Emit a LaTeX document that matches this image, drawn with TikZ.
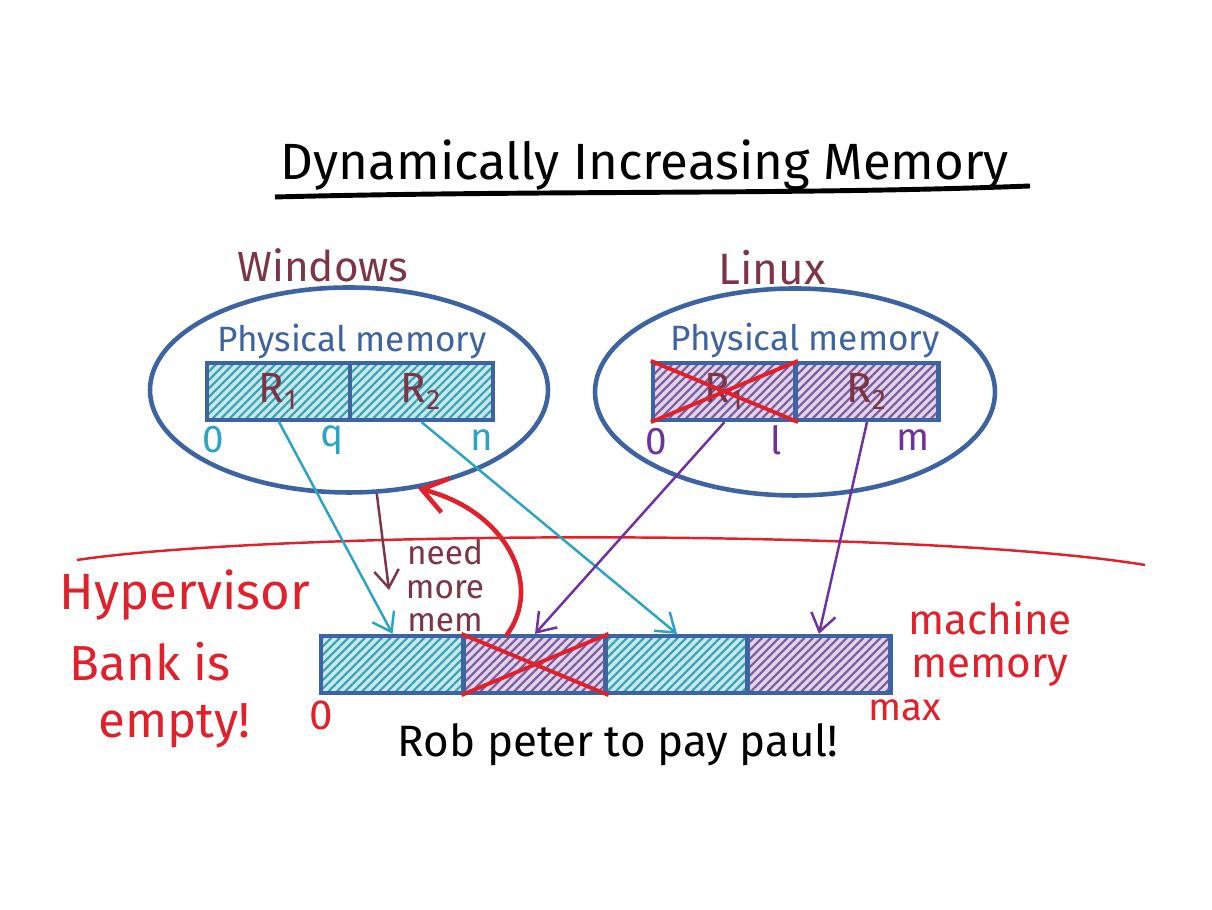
\documentclass[tikz,border=0pt]{standalone}
\usepackage{fontspec}
\setsansfont{Fira Sans}
\usetikzlibrary{arrows.meta,shapes.geometric,patterns.meta}
\definecolor{memblue}{HTML}{3D64A0}
\definecolor{osred}{HTML}{7B3545}
\definecolor{winteal}{HTML}{2BA3C3}
\definecolor{linpurple}{HTML}{7030A0}
\definecolor{hvred}{HTML}{E0202A}
\definecolor{tealfill}{HTML}{C4E8EE}
\definecolor{tealhatch}{HTML}{3AA0B0}
\definecolor{purpfill}{HTML}{E0D4EC}
\definecolor{purphatch}{HTML}{7A5A9A}
\newcommand{\fs}[1]{\fontsize{#1}{#1}\selectfont}

\begin{document}
\begin{tikzpicture}[font=\sffamily,>={Straight Barb[length=5pt,width=7pt]},
 blk/.style={draw=memblue,line width=1.2pt,minimum width=1.43cm,minimum height=0.57cm,inner sep=0pt,text=osred,font=\sffamily\fs{12}},
 tealblk/.style={blk,preaction={fill=tealfill},pattern={Lines[angle=45,distance=1.7pt,line width=0.6pt]},pattern color=tealhatch},
 purpblk/.style={blk,preaction={fill=purpfill},pattern={Lines[angle=45,distance=1.7pt,line width=0.6pt]},pattern color=purphatch},
 osbubble/.style={ellipse,draw=memblue,line width=1.3pt,minimum width=3.98cm,minimum height=2.05cm,inner sep=0pt},
 cross/.style={draw=hvred,line width=1.1pt}]
\useasboundingbox (0,0) rectangle (12.12,9.10);
\node[font=\sffamily\fs{14.5}] (title) at (6.45,7.45) {Dynamically Increasing Memory};
\draw[line width=1.4pt] (2.75,7.13) .. controls (5.5,7.20) and (8.0,7.15) .. (10.30,7.24);
\node[text=osred,font=\sffamily\fs{12}] (winlab) at (3.23,6.45) {Windows};
\node[osbubble] (wos) at (3.49,5.20) {};
\node[text=memblue,font=\sffamily\fs{10}] (wphys) at (3.52,5.68) {Physical memory};
\node[tealblk] (wr1) at (2.785,5.185) {R\textsubscript{1}};
\node[tealblk] (wr2) at (4.215,5.185) {R\textsubscript{2}};
\node[text=winteal,font=\sffamily\fs{11}] (w0) at (2.13,4.70) {0};
\node[text=winteal,font=\sffamily\fs{11}] (wq) at (3.32,4.70) {q};
\node[text=winteal,font=\sffamily\fs{11}] (wn) at (4.82,4.70) {n};
\node[text=osred,font=\sffamily\fs{12.5}] (linlab) at (7.72,6.42) {Linux};
\node[osbubble,minimum width=4.0cm,minimum height=2.07cm] (los) at (7.95,5.18) {};
\node[text=memblue,font=\sffamily\fs{10}] (lphys) at (8.05,5.69) {Physical memory};
\node[purpblk] (lr1) at (7.245,5.185) {R\textsubscript{1}};
\node[purpblk] (lr2) at (8.67,5.185) {R\textsubscript{2}};
\draw[cross] (lr1.north west) -- (lr1.south east) (lr1.south west) -- (lr1.north east);
\node[text=linpurple,font=\sffamily\fs{11}] (l0) at (6.56,4.68) {0};
\node[text=linpurple,font=\sffamily\fs{11}] (ll) at (7.76,4.70) {l};
\node[text=linpurple,font=\sffamily\fs{11}] (lm) at (9.13,4.70) {m};
\draw[hvred,line width=0.7pt] (0.77,3.50) .. controls (2.8,3.80) and (9.2,3.82) .. (11.45,3.45);
\node[text=hvred,font=\sffamily\fs{14.5}] (hv) at (1.85,3.15) {Hypervisor};
\node[text=hvred,font=\sffamily\fs{14},align=center] (bank) at (1.50,2.15) {Bank is\\[2pt]\quad empty!};
\node[tealblk] (m1) at (3.925,2.455) {};
\node[purpblk] (m2) at (5.35,2.455) {};
\node[tealblk] (m3) at (6.77,2.455) {};
\node[purpblk] (m4) at (8.19,2.455) {};
\draw[cross] (m2.north west) -- (m2.south east) (m2.south west) -- (m2.north east);
\node[text=hvred,font=\sffamily\fs{12}] (m0) at (3.21,1.95) {0};
\node[text=hvred,font=\sffamily\fs{11}] (mmax) at (9.05,2.00) {max};
\node[text=hvred,font=\sffamily\fs{12},align=center] (mlab) at (9.90,2.66) {machine\\memory};
\node[font=\sffamily\fs{12.5}] (rob) at (6.18,1.65) {Rob peter to pay paul!};
\node[text=osred,font=\sffamily\fs{9.5},align=center,inner sep=1pt] (need) at (4.45,3.24) {need\\more\\mem};
\coordinate (needtip) at (3.89,3.20);
\draw[winteal,line width=0.7pt,->] (wr1.south) -- (m1.north);
\draw[winteal,line width=0.7pt,->] (wr2.south) -- (m3.north);
\draw[linpurple,line width=0.7pt,->] (lr1.south) -- (m2.north);
\draw[linpurple,line width=0.7pt,->] (lr2.south) -- (m4.north);
\draw[osred,line width=0.7pt,->] (wos.-75) -- (needtip);
\coordinate (robtail) at (5.06,2.74);
\draw[hvred,line width=1.3pt,->,>={Straight Barb[length=7pt,width=10pt]}] (robtail) .. controls (5.45,3.25) and (5.05,4.0) .. (wos.-55);
\end{tikzpicture}
\end{document}
